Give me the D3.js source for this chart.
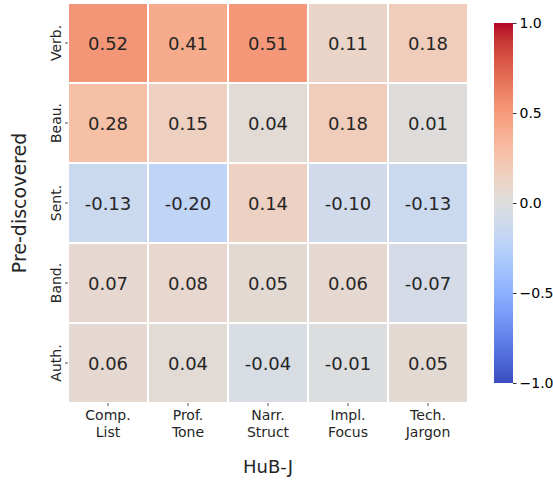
<!DOCTYPE html>
<html><head><meta charset="utf-8">
<script src="https://cdn.jsdelivr.net/npm/d3@7"></script>
<style>body{margin:0;background:#fff}svg{display:block;font-family:"DejaVu Sans",sans-serif}</style>
</head><body>
<svg id="c" width="553" height="481"></svg>
<script>
const rows = ["Verb.", "Beau.", "Sent.", "Band.", "Auth."];
const cols = [["Comp.", "List"], ["Prof.", "Tone"], ["Narr.", "Struct"], ["Impl.", "Focus"], ["Tech.", "Jargon"]];
const values = [
  [0.52, 0.41, 0.51, 0.11, 0.18],
  [0.28, 0.15, 0.04, 0.18, 0.01],
  [-0.13, -0.20, 0.14, -0.10, -0.13],
  [0.07, 0.08, 0.05, 0.06, -0.07],
  [0.06, 0.04, -0.04, -0.01, 0.05]
];
const cbTicks = [1.0, 0.5, 0.0, -0.5, -1.0];
const xLabel = "HuB-J";
const yLabel = "Pre-discovered";

// coolwarm (Moreland) table
const cw = [[59,76,192],[68,90,204],[77,104,215],[87,117,225],[98,130,234],[108,142,241],[119,154,247],[130,165,251],[141,176,254],[152,185,255],[163,194,255],[174,201,253],[184,208,249],[194,213,244],[204,217,238],[213,219,230],[221,221,221],[229,216,209],[236,211,197],[241,204,185],[245,196,173],[247,187,160],[247,177,148],[247,166,135],[244,154,123],[241,141,111],[236,127,99],[229,112,88],[222,96,77],[213,80,66],[203,62,56],[192,40,47],[180,4,38]];
const cwScale = d3.scaleLinear().domain(cw.map((_, i) => i / (cw.length - 1))).range(cw.map(c => `rgb(${c[0]},${c[1]},${c[2]})`)).interpolate(d3.interpolateRgb).clamp(true);
const norm = d3.scaleLinear().domain([-1, 1]).range([0, 1]);
const color = v => cwScale(norm(v));

const svg = d3.select("#c");
const x = d3.scaleBand().domain(d3.range(cols.length)).range([68, 468]);
const y = d3.scaleBand().domain(d3.range(rows.length)).range([3, 403]);

const cells = [];
values.forEach((r, i) => r.forEach((v, j) => cells.push({i, j, v})));

svg.append("g").selectAll("rect").data(cells).join("rect")
  .attr("x", d => x(d.j)).attr("y", d => y(d.i))
  .attr("width", x.bandwidth()).attr("height", y.bandwidth())
  .attr("fill", d => color(d.v)).attr("stroke", "#fff").attr("stroke-width", 2);

svg.append("g").selectAll("text").data(cells).join("text")
  .attr("x", d => x(d.j) + x.bandwidth() / 2).attr("y", d => y(d.i) + y.bandwidth() / 2)
  .attr("text-anchor", "middle").attr("dominant-baseline", "central")
  .attr("font-size", 18).attr("fill", "#262626")
  .text(d => d.v.toFixed(2).replace("-", "-"));

// x ticks
const xg = svg.append("g");
cols.forEach((c, j) => {
  const cx = x(j) + x.bandwidth() / 2;
  xg.append("line").attr("x1", cx).attr("x2", cx).attr("y1", 403).attr("y2", 406).attr("stroke", "#262626").attr("stroke-width", 0.8);
  const t = xg.append("text").attr("x", cx).attr("y", 420).attr("text-anchor", "middle").attr("font-size", 14).attr("fill", "#262626");
  c.forEach((s, k) => t.append("tspan").attr("x", cx).attr("dy", k === 0 ? 0 : 16.5).text(s));
});
// y ticks
const yg = svg.append("g");
rows.forEach((r, i) => {
  const cy = y(i) + y.bandwidth() / 2;
  yg.append("line").attr("x1", 65).attr("x2", 68).attr("y1", cy).attr("y2", cy).attr("stroke", "#262626").attr("stroke-width", 0.8);
  yg.append("text").attr("transform", `translate(61,${cy}) rotate(-90)`).attr("text-anchor", "middle").attr("font-size", 14).attr("fill", "#262626").text(r);
});

svg.append("text").attr("x", 268).attr("y", 473).attr("text-anchor", "middle").attr("font-size", 18).attr("fill", "#262626").text(xLabel);
svg.append("text").attr("transform", "translate(26,203) rotate(-90)").attr("text-anchor", "middle").attr("font-size", 19).attr("fill", "#262626").text(yLabel);

// colorbar
const cbY = d3.scaleLinear().domain([-1, 1]).range([383, 23]);
const defs = svg.append("defs");
const grad = defs.append("linearGradient").attr("id", "cb").attr("x1", 0).attr("y1", 1).attr("x2", 0).attr("y2", 0);
cw.forEach((c, i) => grad.append("stop").attr("offset", i / (cw.length - 1)).attr("stop-color", `rgb(${c[0]},${c[1]},${c[2]})`));
svg.append("rect").attr("x", 494).attr("y", cbY(1)).attr("width", 19).attr("height", cbY(-1) - cbY(1)).attr("fill", "url(#cb)");
const cbAxis = d3.axisRight(cbY).tickValues(cbTicks).tickSize(3.5).tickPadding(3).tickFormat(d => d3.format(".1f")(d).replace("-", "\u2212"));
const ag = svg.append("g").attr("transform", "translate(513,0)").call(cbAxis);
ag.select(".domain").remove();
ag.selectAll("line").attr("stroke", "#000").attr("stroke-width", 0.8);
ag.selectAll("text").attr("font-size", 14).attr("fill", "#000").attr("font-family", "DejaVu Sans");
</script>
</body></html>
